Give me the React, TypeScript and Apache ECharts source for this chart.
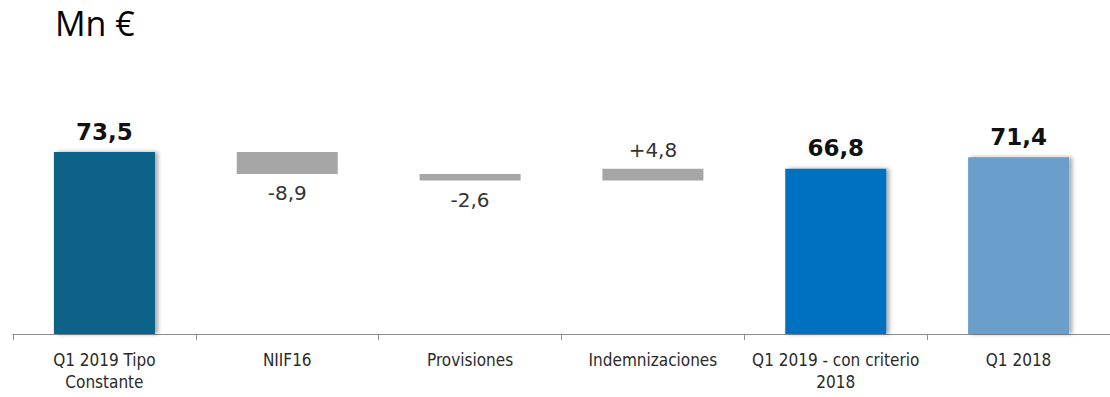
import React, { useEffect, useRef } from "react";
import * as echarts from "echarts";

const categories = [
  "Q1 2019 Tipo\nConstante",
  "NIIF16",
  "Provisiones",
  "Indemnizaciones",
  "Q1 2019 - con criterio\n2018",
  "Q1 2018",
];
const values = [73.5, -8.9, -2.6, 4.8, 66.8, 71.4];
const isTotal = [true, false, false, false, true, true];
const valueLabels = ["73,5", "-8,9", "-2,6", "+4,8", "66,8", "71,4"];
const barColors = ["#07628A", "#A6A6A6", "#A6A6A6", "#A6A6A6", "#0070C0", "#6A9FCB"];
const unitTitle = "Mn €";

export default function App() {
  const ref = useRef<HTMLDivElement>(null);
  useEffect(() => {
    document.body.style.margin = "0";
    if (!ref.current) return;
    const chart = echarts.init(ref.current, undefined, { renderer: "svg" });

    const bases: number[] = [];
    const heights: number[] = [];
    let running = 0;
    values.forEach((v, i) => {
      if (isTotal[i]) {
        bases.push(0);
        heights.push(v);
        running = v;
      } else if (v < 0) {
        bases.push(running + v);
        heights.push(-v);
        running += v;
      } else {
        bases.push(running);
        heights.push(v);
        running += v;
      }
    });

    const visible = heights.map((h, i) => {
      const total = isTotal[i];
      const neg = values[i] < 0;
      const shadow = total
        ? { shadowColor: "rgba(0,0,0,0.35)", shadowBlur: 4, shadowOffsetX: 3 }
        : {};
      return {
        value: h,
        itemStyle: { color: barColors[i], ...shadow },
        label: {
          show: true,
          formatter: valueLabels[i],
          position: total ? "top" : neg ? "bottom" : "top",
          distance: 9,
          fontSize: total ? 23 : 20,
          fontWeight: total ? "bold" : "normal",
          color: total ? "#111111" : "#333333",
          fontFamily: "'DejaVu Sans', Verdana, sans-serif",
        },
      };
    });

    chart.setOption({
      animation: false,
      grid: { left: 13, right: 0, top: 136, bottom: 63, containLabel: false },
      graphic: [
        {
          type: "text",
          left: 55,
          top: 6,
          style: {
            text: unitTitle,
            fontSize: 34,
            fontFamily: "'Open Sans', 'Noto Sans', sans-serif",
            fill: "#000000",
          },
        },
      ],
      xAxis: {
        type: "category",
        data: categories,
        axisLine: { lineStyle: { color: "#8C8C8C", width: 1 } },
        axisTick: { show: true, length: 6, lineStyle: { color: "#8C8C8C" } },
        axisLabel: {
          interval: 0,
          fontSize: 17,
          lineHeight: 22,
          margin: 15,
          color: "#2A2A2A",
          fontFamily: "'DejaVu Sans Condensed', 'Liberation Sans Narrow', 'DejaVu Sans', sans-serif",
        },
      },
      yAxis: { type: "value", min: 0, max: 80, show: false },
      series: [
        {
          type: "bar",
          stack: "w",
          silent: true,
          barWidth: 101,
          itemStyle: { color: "transparent" },
          data: bases,
        },
        {
          type: "bar",
          stack: "w",
          barWidth: 101,
          data: visible,
        },
      ],
    });
    return () => chart.dispose();
  }, []);
  return <div ref={ref} style={{ width: 1110, height: 397 }} />;
}
